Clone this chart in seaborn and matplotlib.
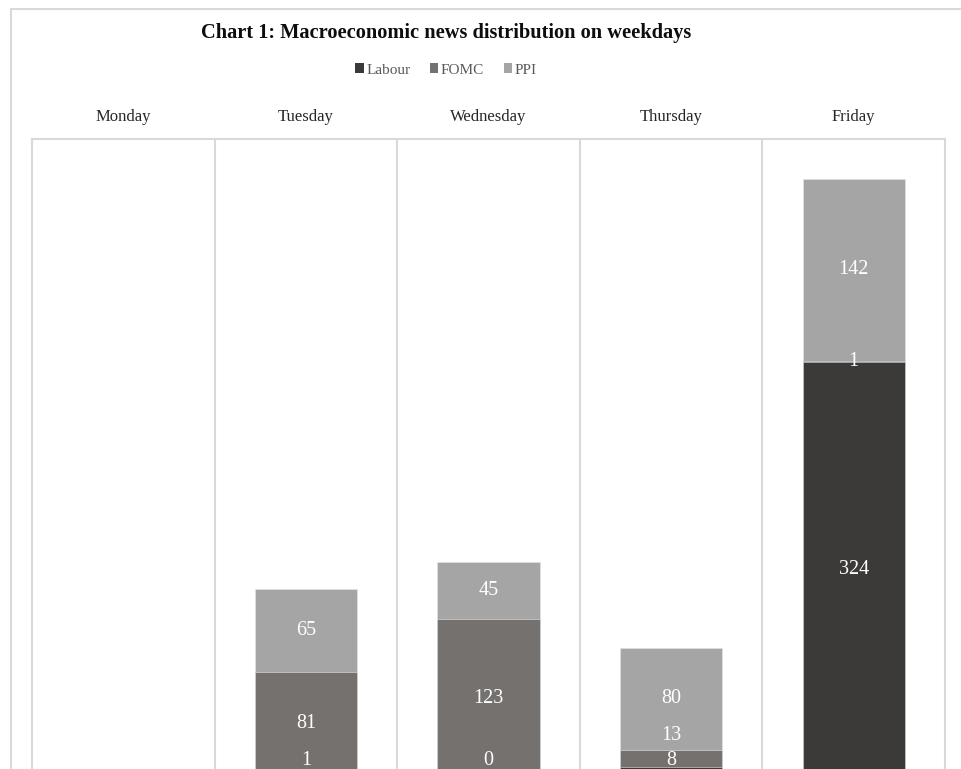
import matplotlib
matplotlib.use("Agg")
import matplotlib.pyplot as plt
from matplotlib.patches import Patch, Rectangle
import seaborn as sns
import numpy as np

days = ["Monday", "Tuesday", "Wednesday", "Thursday", "Friday"]
labour = [np.nan, 1, 0, 8, 324]
fomc = [np.nan, 81, 123, 13, 1]
ppi = [np.nan, 65, 45, 80, 142]

series_names = ["Labour", "FOMC", "PPI"]
colors = ["#3b3a38", "#75716f", "#a5a5a5"]
grid_gray = "#d9d9d9"

sns.set_style("white")
plt.rcParams["font.family"] = ["Liberation Serif", "DejaVu Serif"]

W, H = 962, 769
fig = plt.figure(figsize=(W / 100, H / 100), dpi=100)

# outer chart frame (runs off the right and bottom edges like the cropped original)
fig.patches.append(Rectangle((11 / W, -0.1), 1.2, 1.1 - 9 / H, transform=fig.transFigure,
                             fill=False, edgecolor=grid_gray, linewidth=1.5, zorder=0))

# plot area: bottom sits a few pixels below the figure edge
ax = fig.add_axes([32 / W, -8 / H, (945 - 32) / W, (777 - 139) / H])

lab = np.array(labour, dtype=float)
fom = np.array(fomc, dtype=float)
pp = np.array(ppi, dtype=float)
stacks = [lab, lab + fom, lab + fom + pp]

# draw from the top of the stack down so each layer covers the one beneath
for k in [2, 1, 0]:
    sns.barplot(x=days, y=stacks[k], color=colors[k], saturation=1, width=0.56,
                errorbar=None, edgecolor="#e6e6e6", linewidth=0.4, ax=ax, zorder=2)

ax.set_xlim(-0.5, len(days) - 0.5)
ax.set_ylim(0, 498)

for b in np.arange(0.5, len(days) - 0.5, 1.0):
    ax.axvline(b, color=grid_gray, linewidth=1.5, zorder=1)

for side in ["left", "right", "top"]:
    ax.spines[side].set_color(grid_gray)
    ax.spines[side].set_linewidth(1.5)
ax.spines["bottom"].set_visible(False)

ax.xaxis.tick_top()
ax.set_xticks(range(len(days)))
ax.set_xticklabels(days, fontsize=12, color="#262626")
ax.tick_params(axis="x", length=0, pad=10)
ax.set_yticks([])
ax.set_xlabel("")
ax.set_ylabel("")

# data labels: centred in each segment, kept inside the visible area and pushed up
# when they would overlap the label below (as the spreadsheet does)
min_y, gap = 13, 19.5
values = [lab, fom, pp]
for i in range(len(days)):
    if np.isnan(lab[i]):
        continue
    base = 0.0
    prev = None
    for k in range(3):
        v = values[k][i]
        y = max(base + v / 2, min_y)
        if prev is not None and y < prev + gap:
            y = prev + gap
        ax.text(i, y, f"{int(v)}", ha="center", va="center", color="white",
                fontsize=14.5, zorder=5)
        prev = y
        base += v

fig.text(446 / W, 1 - 33 / H, "Chart 1: Macroeconomic news distribution on weekdays",
         ha="center", va="center", fontsize=14.7, fontweight="bold", color="#0d0d0d")

handles = [Patch(facecolor=c, edgecolor="none") for c in colors]
fig.legend(handles, series_names, loc="center", bbox_to_anchor=(446 / W, 1 - 70 / H),
           ncol=3, frameon=False, fontsize=11, handlelength=0.55, handleheight=0.55,
           handletextpad=0.15, columnspacing=1.3, labelcolor="#595959")

fig.savefig("out.png", dpi=100)
